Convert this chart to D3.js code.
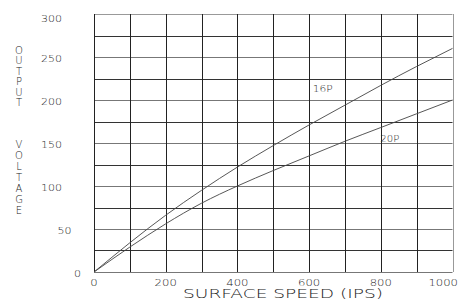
<!DOCTYPE html>
<html>
<head>
<meta charset="utf-8">
<script src="https://d3js.org/d3.v7.min.js"></script>
<style>
  body { margin: 0; background: #fff; }
  text { font-family: "DejaVu Sans", sans-serif; font-weight: 200; fill: #222; }
</style>
</head>
<body>
<div id="chart"></div>
<script>
// data
var speeds = [0, 100, 200, 300, 400, 500, 600, 700, 800, 900, 1000];
var volts16P = [0, 34, 66, 95, 122, 147, 171, 194, 217, 239, 260];
var volts20P = [0, 29, 56, 80, 100, 118, 135, 152, 168, 184, 200];
var xTicks = [0, 200, 400, 600, 800, 1000];
var yTicks = [0, 50, 100, 150, 200, 250, 300];
var yTitleWords = ["OUTPUT", "VOLTAGE"];

var width = 459, height = 300;
var margin = {top: 14, right: 6.5, bottom: 28, left: 94};

var svg = d3.select("#chart").append("svg")
    .attr("width", width)
    .attr("height", height);

var x = d3.scaleLinear().domain([0, 1000]).range([margin.left, width - margin.right]);
var y = d3.scaleLinear().domain([0, 300]).range([height - margin.bottom, margin.top]);

// horizontal grid
svg.append("g")
    .selectAll("line")
    .data(d3.range(0, 301, 25))
    .enter().append("line")
    .attr("x1", x(0)).attr("x2", x(1000))
    .attr("y1", function(d) { return Math.round(y(d)) + 0.5; })
    .attr("y2", function(d) { return Math.round(y(d)) + 0.5; })
    .attr("stroke", function(d) { return d == 300 ? "#999" : (d % 50 == 0 ? "#777" : "#333"); })
    .attr("stroke-width", 1);

// vertical grid
svg.append("g")
    .selectAll("line")
    .data(d3.range(0, 1001, 100))
    .enter().append("line")
    .attr("x1", function(d) { return Math.round(x(d)) + 0.5; })
    .attr("x2", function(d) { return Math.round(x(d)) + 0.5; })
    .attr("y1", y(300)).attr("y2", y(0))
    .attr("stroke", function(d) { return d == 1000 ? "#999" : "#222"; })
    .attr("stroke-width", 1);

// curves
var line = d3.line()
    .x(function(d) { return x(d[0]); })
    .y(function(d) { return y(d[1]); })
    .curve(d3.curveNatural);

[volts16P, volts20P].forEach(function(vals) {
  svg.append("path")
      .datum(speeds.map(function(s, i) { return [s, vals[i]]; }))
      .attr("fill", "none")
      .attr("stroke", "#444")
      .attr("stroke-width", 0.9)
      .attr("d", line);
});

// curve labels
svg.append("text").attr("x", x(638)).attr("y", y(213) + 3.5)
    .attr("text-anchor", "middle").style("font-size", "9.5px")
    .attr("textLength", 20).attr("lengthAdjust", "spacingAndGlyphs").text("16P");
svg.append("text").attr("x", x(825)).attr("y", y(155) + 3.5)
    .attr("text-anchor", "middle").style("font-size", "9.5px")
    .attr("textLength", 19).attr("lengthAdjust", "spacingAndGlyphs").text("20P");

// x tick labels
svg.append("g")
    .selectAll("text")
    .data(xTicks)
    .enter().append("text")
    .attr("x", function(d) { return d == 1000 ? width - 1 : x(d); })
    .attr("y", y(0) + 14)
    .attr("text-anchor", function(d) { return d == 1000 ? "end" : "middle"; })
    .style("font-size", "9.5px")
    .attr("textLength", function(d) { return String(d).length * 7.4; })
    .attr("lengthAdjust", "spacingAndGlyphs")
    .text(function(d) { return d; });

// y tick labels
svg.append("g")
    .selectAll("text")
    .data(yTicks)
    .enter().append("text")
    .attr("x", function(d) { return 41 + (3 - String(d).length) * 16.5; })
    .attr("y", function(d) { return y(d) + 4.5 + (d == 300 ? 3 : 0); })
    .style("font-size", "9.5px")
    .attr("textLength", function(d) { return String(d).length * 7; })
    .attr("lengthAdjust", "spacingAndGlyphs")
    .text(function(d) { return d; });

// x title
svg.append("text")
    .attr("x", 183).attr("y", 298)
    .style("font-size", "12px")
    .attr("textLength", 200)
    .attr("lengthAdjust", "spacingAndGlyphs")
    .text("SURFACE SPEED (IPS)");

// y title, one letter per row
var yTitleStart = [50, 144.5];
var yTitleStep = [10.5, 11];
yTitleWords.forEach(function(w, wi) {
  svg.append("g")
    .selectAll("text")
    .data(w.split(""))
    .enter().append("text")
    .attr("x", 19)
    .attr("y", function(c, i) { return yTitleStart[wi] + i * yTitleStep[wi] + 3.7; })
    .attr("text-anchor", "middle")
    .style("font-size", "10px")
    .text(function(c) { return c; });
});
</script>
</body>
</html>
